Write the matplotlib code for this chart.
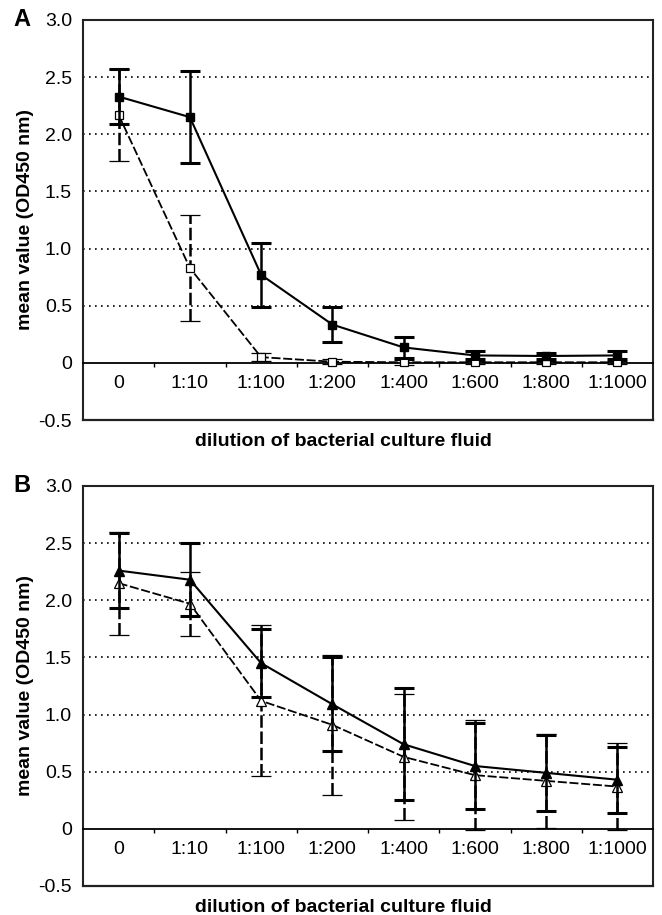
import matplotlib
matplotlib.use('Agg')
from matplotlib import pyplot as plt

plt.rcParams['font.family'] = ['Liberation Sans', 'DejaVu Sans']

# categories on x axis
dilutions = ['0', '1:10', '1:100', '1:200', '1:400', '1:600', '1:800', '1:1000']

# panel A (squares)
a_filled = [2.33, 2.15, 0.77, 0.335, 0.135, 0.065, 0.06, 0.065]
a_filled_sd = [0.24, 0.40, 0.28, 0.15, 0.09, 0.035, 0.03, 0.035]
a_open = [2.17, 0.83, 0.05, 0.01, 0.005, 0.005, 0.005, 0.005]
a_open_sd = [0.40, 0.46, 0.035, 0.02, 0.02, 0.015, 0.015, 0.015]

# panel B (triangles)
b_filled = [2.26, 2.18, 1.45, 1.09, 0.74, 0.55, 0.49, 0.43]
b_filled_sd = [0.33, 0.32, 0.30, 0.41, 0.49, 0.38, 0.33, 0.29]
b_open = [2.15, 1.97, 1.12, 0.91, 0.63, 0.47, 0.42, 0.37]
b_open_sd = [0.45, 0.28, 0.66, 0.61, 0.55, 0.48, 0.41, 0.38]

y_ticks = [-0.5, 0, 0.5, 1.0, 1.5, 2.0, 2.5, 3.0]
y_ticklabels = ['-0.5', '0', '0.5', '1.0', '1.5', '2.0', '2.5', '3.0']

dash = (0, (5, 1.5))


def draw_panel(ax, letter, filled, filled_sd, opened, opened_sd, marker, msize):
    x = list(range(len(dilutions)))

    # gridlines (dotted)
    for g in [0.5, 1.0, 1.5, 2.0, 2.5]:
        ax.axhline(g, color='black', lw=1.2, linestyle=(0, (1, 2.6)), zorder=1)

    # open series, dashed
    eb = ax.errorbar(x, opened, yerr=opened_sd, color='black', lw=1.3,
                     linestyle=dash, marker=marker, markersize=msize,
                     markerfacecolor='white', markeredgecolor='black', markeredgewidth=0.9,
                     ecolor='black', elinewidth=1.8, capsize=7, capthick=2.2, zorder=3)
    eb[2][0].set_linestyle(dash)

    # filled series, solid
    ax.errorbar(x, filled, yerr=filled_sd, color='black', lw=1.5,
                marker=marker, markersize=msize, markerfacecolor='black',
                markeredgecolor='black', ecolor='black', elinewidth=1.8,
                capsize=7, capthick=2.2, zorder=4)

    ax.set_xlim(-0.5, 7.5)
    ax.set_ylim(-0.5, 3.0)

    # category axis crosses at 0
    ax.spines['bottom'].set_position(('data', 0))
    ax.spines['bottom'].set_linewidth(1.3)
    for s in ['left', 'top', 'right']:
        ax.spines[s].set_linewidth(1.5)
        ax.spines[s].set_color('#222222')
    ax.axhline(-0.5, color='#222222', lw=1.6, clip_on=False, zorder=5)

    ax.set_xticks(x)
    ax.set_xticklabels(dilutions, fontsize=14)
    ax.set_xticks([i + 0.5 for i in range(7)], minor=True)
    ax.tick_params(axis='x', which='major', length=0, pad=9)
    ax.tick_params(axis='x', which='minor', length=3, width=1, direction='out')

    ax.set_yticks(y_ticks)
    ax.set_yticklabels(y_ticklabels, fontsize=14)
    ax.tick_params(axis='y', length=0, pad=8)

    ax.set_ylabel('mean value (OD450 nm)', fontsize=14, fontweight='bold', labelpad=3)

    pos = ax.get_position()
    fig.text(22 / 662, pos.y1 + 0.001, letter, fontsize=17, fontweight='bold',
             ha='center', va='center')
    fig.text(343 / 662, pos.y0 - 22 / 915, 'dilution of bacterial culture fluid',
             fontsize=14, fontweight='bold', ha='center', va='center')


fig = plt.figure(figsize=(6.62, 9.15), dpi=100)
ax_a = fig.add_axes([83 / 662, 1 - 420 / 915, 570 / 662, 400 / 915])
ax_b = fig.add_axes([83 / 662, 1 - 886 / 915, 570 / 662, 400 / 915])

draw_panel(ax_a, 'A', a_filled, a_filled_sd, a_open, a_open_sd, 's', 6)
draw_panel(ax_b, 'B', b_filled, b_filled_sd, b_open, b_open_sd, '^', 6.5)

fig.savefig('out.png', dpi=100, facecolor='white')
